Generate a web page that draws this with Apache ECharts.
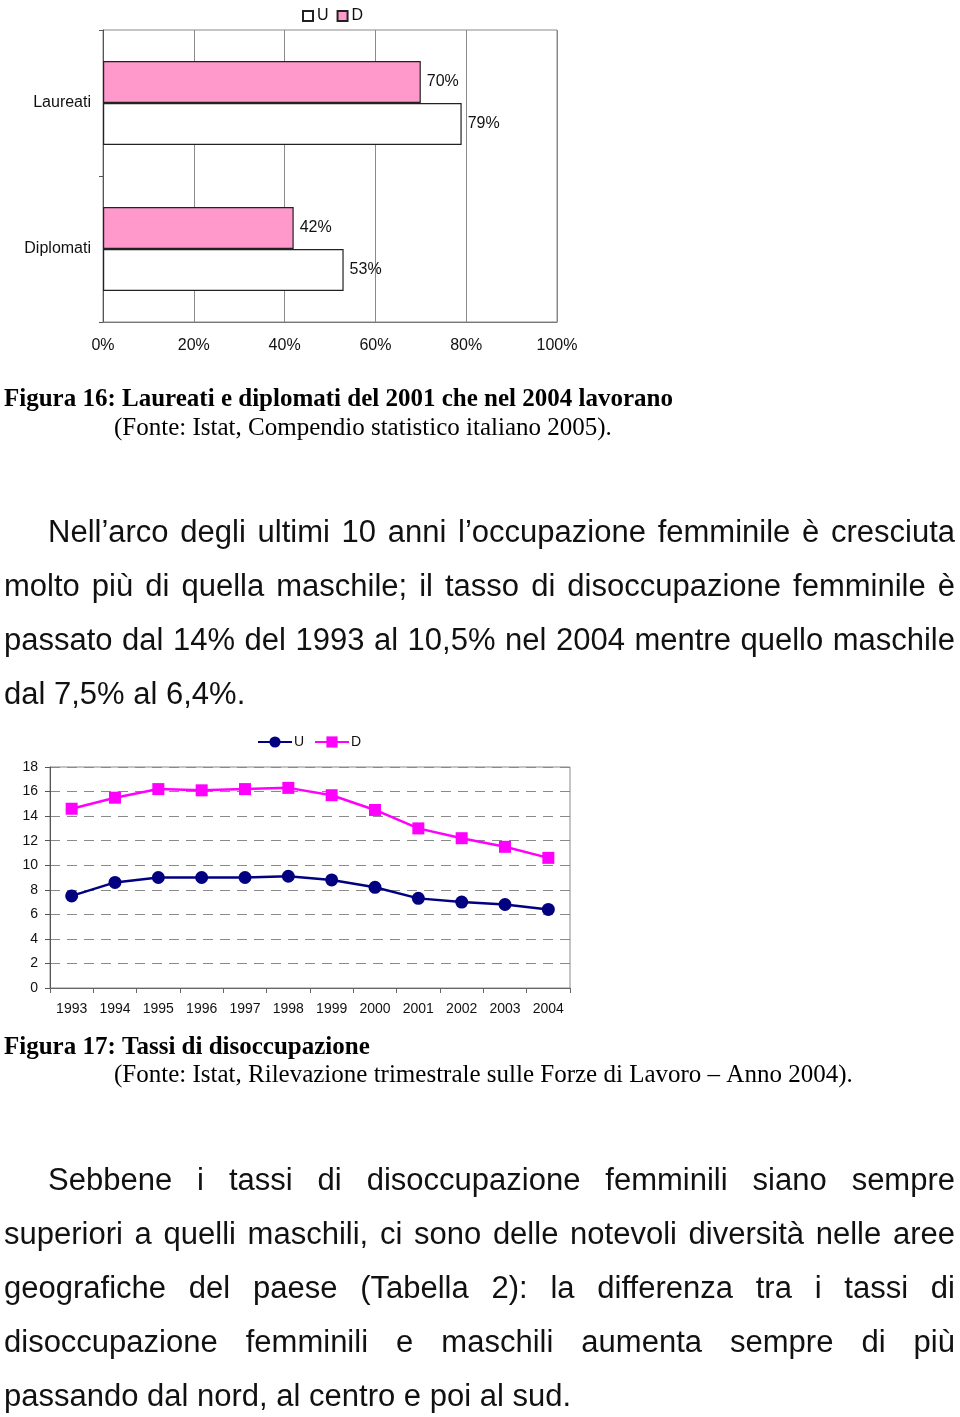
<!DOCTYPE html>
<html><head><meta charset="utf-8">
<script src="https://cdn.jsdelivr.net/npm/echarts@6/dist/echarts.min.js"></script>
<style>
html,body{margin:0;padding:0;background:#fff;}
#wrap{position:relative;width:960px;height:1417px;overflow:hidden;}
#chart{position:absolute;left:0;top:0;width:960px;height:1417px;}
.ln{position:absolute;left:4px;width:951px;height:54px;line-height:54px;font-family:"Liberation Sans",Arial,sans-serif;font-size:31px;color:#111;white-space:nowrap;}
.j{text-align:justify;text-align-last:justify;white-space:normal;}
.ind{padding-left:44px;width:907px;}
</style></head>
<body><div id="wrap"><div id="chart"></div>
<div class="ln j ind" style="top:505px">Nell’arco degli ultimi 10 anni l’occupazione femminile è cresciuta</div>
<div class="ln j" style="top:559px">molto più di quella maschile; il tasso di disoccupazione femminile è</div>
<div class="ln j" style="top:613px">passato dal 14% del 1993 al 10,5% nel 2004 mentre quello maschile</div>
<div class="ln" style="top:667px">dal 7,5% al 6,4%.</div>
<div class="ln j ind" style="top:1153px">Sebbene i tassi di disoccupazione femminili siano sempre</div>
<div class="ln j" style="top:1207px">superiori a quelli maschili, ci sono delle notevoli diversità nelle aree</div>
<div class="ln j" style="top:1261px">geografiche del paese (Tabella 2): la differenza tra i tassi di</div>
<div class="ln j" style="top:1315px">disoccupazione femminili e maschili aumenta sempre di più</div>
<div class="ln" style="top:1369px">passando dal nord, al centro e poi al sud.</div>
</div>
<script>
// Figure 16 data
const barCategories = ['Diplomati', 'Laureati'];
const barU = [0.53, 0.79];
const barD = [0.42, 0.70];
// Figure 17 data
const years = ['1993','1994','1995','1996','1997','1998','1999','2000','2001','2002','2003','2004'];
const lineU = [7.5, 8.6, 9.0, 9.0, 9.0, 9.1, 8.8, 8.2, 7.3, 7.0, 6.8, 6.4];
const lineD = [14.6, 15.5, 16.2, 16.1, 16.2, 16.3, 15.7, 14.5, 13.0, 12.2, 11.5, 10.6];

const FONT = '"Liberation Sans", Arial, sans-serif';
const SERIF = '"Liberation Serif", "Times New Roman", serif';
const chart = echarts.init(document.getElementById('chart'), null, {renderer: 'canvas'});
const pct = v => Math.round(v * 100) + '%';

chart.setOption({
  animation: false,
  textStyle: {fontFamily: FONT},
  legend: [
    {
      left: 297, top: 3, itemWidth: 10, itemHeight: 10, itemGap: 8, icon: 'rect',
      data: ['U', 'D'], textStyle: {fontSize: 16, color: '#111', padding: [0,0,0,-1]},
      selectedMode: false
    },
    {
      left: 252, top: 730, itemWidth: 34, itemHeight: 14, itemGap: 6,
      data: ['U ', 'D '], textStyle: {fontSize: 14, color: '#111', padding: [0,0,0,-3]},
      selectedMode: false
    }
  ],
  grid: [
    {left: 103, top: 30, width: 454, height: 292, show: true, borderColor: '#8a8a8a', borderWidth: 1, containLabel: false},
    {left: 50, top: 767, width: 520, height: 221, show: true, borderColor: '#8a8a8a', borderWidth: 1, containLabel: false}
  ],
  xAxis: [
    {
      gridIndex: 0, type: 'value', min: 0, max: 1, interval: 0.2,
      axisLine: {show: true, lineStyle: {color: '#777'}},
      axisTick: {show: false},
      axisLabel: {formatter: pct, fontSize: 16, color: '#111', margin: 16, showMaxLabel: true},
      splitLine: {show: true, lineStyle: {color: '#8a8a8a', width: 1}}
    },
    {
      gridIndex: 1, type: 'category', data: years, boundaryGap: true,
      axisLine: {show: true, lineStyle: {color: '#666'}},
      axisTick: {show: true, length: 5, lineStyle: {color: '#666'}},
      axisLabel: {fontSize: 14, color: '#111', margin: 14, interval: 0},
      splitLine: {show: false}
    }
  ],
  yAxis: [
    {
      gridIndex: 0, type: 'category', data: barCategories,
      axisLine: {show: true, lineStyle: {color: '#555'}},
      axisTick: {show: true, length: 4, lineStyle: {color: '#555'}},
      axisLabel: {fontSize: 16, color: '#111', margin: 12}
    },
    {
      gridIndex: 1, type: 'value', min: 0, max: 18, interval: 2,
      axisLine: {show: true, lineStyle: {color: '#555'}},
      axisTick: {show: true, length: 5, lineStyle: {color: '#555'}},
      axisLabel: {fontSize: 14, color: '#111', margin: 12},
      splitLine: {show: true, lineStyle: {color: '#8a8a8a', type: [10, 7], width: 1}}
    }
  ],
  series: [
    {
      name: 'D', type: 'bar', xAxisIndex: 0, yAxisIndex: 0, data: barD,
      barWidth: 42, barGap: '0%',
      itemStyle: {color: '#ff99cc', borderColor: '#222', borderWidth: 1.2},
      label: {show: true, position: 'right', distance: 6, formatter: p => pct(p.value), fontSize: 16, color: '#111'}
    },
    {
      name: 'U', type: 'bar', xAxisIndex: 0, yAxisIndex: 0, data: barU,
      barWidth: 42, barGap: '0%',
      itemStyle: {color: '#ffffff', borderColor: '#222', borderWidth: 1.2},
      label: {show: true, position: 'right', distance: 6, formatter: p => pct(p.value), fontSize: 16, color: '#111'}
    },
    {
      name: 'U ', type: 'line', xAxisIndex: 1, yAxisIndex: 1, data: lineU,
      symbol: 'circle', symbolSize: 13,
      lineStyle: {color: '#000080', width: 2.5},
      itemStyle: {color: '#000080'}
    },
    {
      name: 'D ', type: 'line', xAxisIndex: 1, yAxisIndex: 1, data: lineD,
      symbol: 'rect', symbolSize: 12,
      lineStyle: {color: '#ff00ff', width: 2.5},
      itemStyle: {color: '#ff00ff'}
    }
  ],
  graphic: [
    {type: 'text', left: 4, top: 387, style: {text: 'Figura 16: Laureati e diplomati del 2001 che nel 2004 lavorano', font: 'bold 25px ' + SERIF, fill: '#000'}},
    {type: 'text', left: 114, top: 416, style: {text: '(Fonte: Istat, Compendio statistico italiano 2005).', font: '25px ' + SERIF, fill: '#000'}},
    {type: 'text', left: 4, top: 1035, style: {text: 'Figura 17: Tassi di disoccupazione', font: 'bold 25px ' + SERIF, fill: '#000'}},
    {type: 'text', left: 114, top: 1063, style: {text: '(Fonte: Istat, Rilevazione trimestrale sulle Forze di Lavoro – Anno 2004).', font: '25px ' + SERIF, fill: '#000'}}
  ]
});
</script></body></html>
